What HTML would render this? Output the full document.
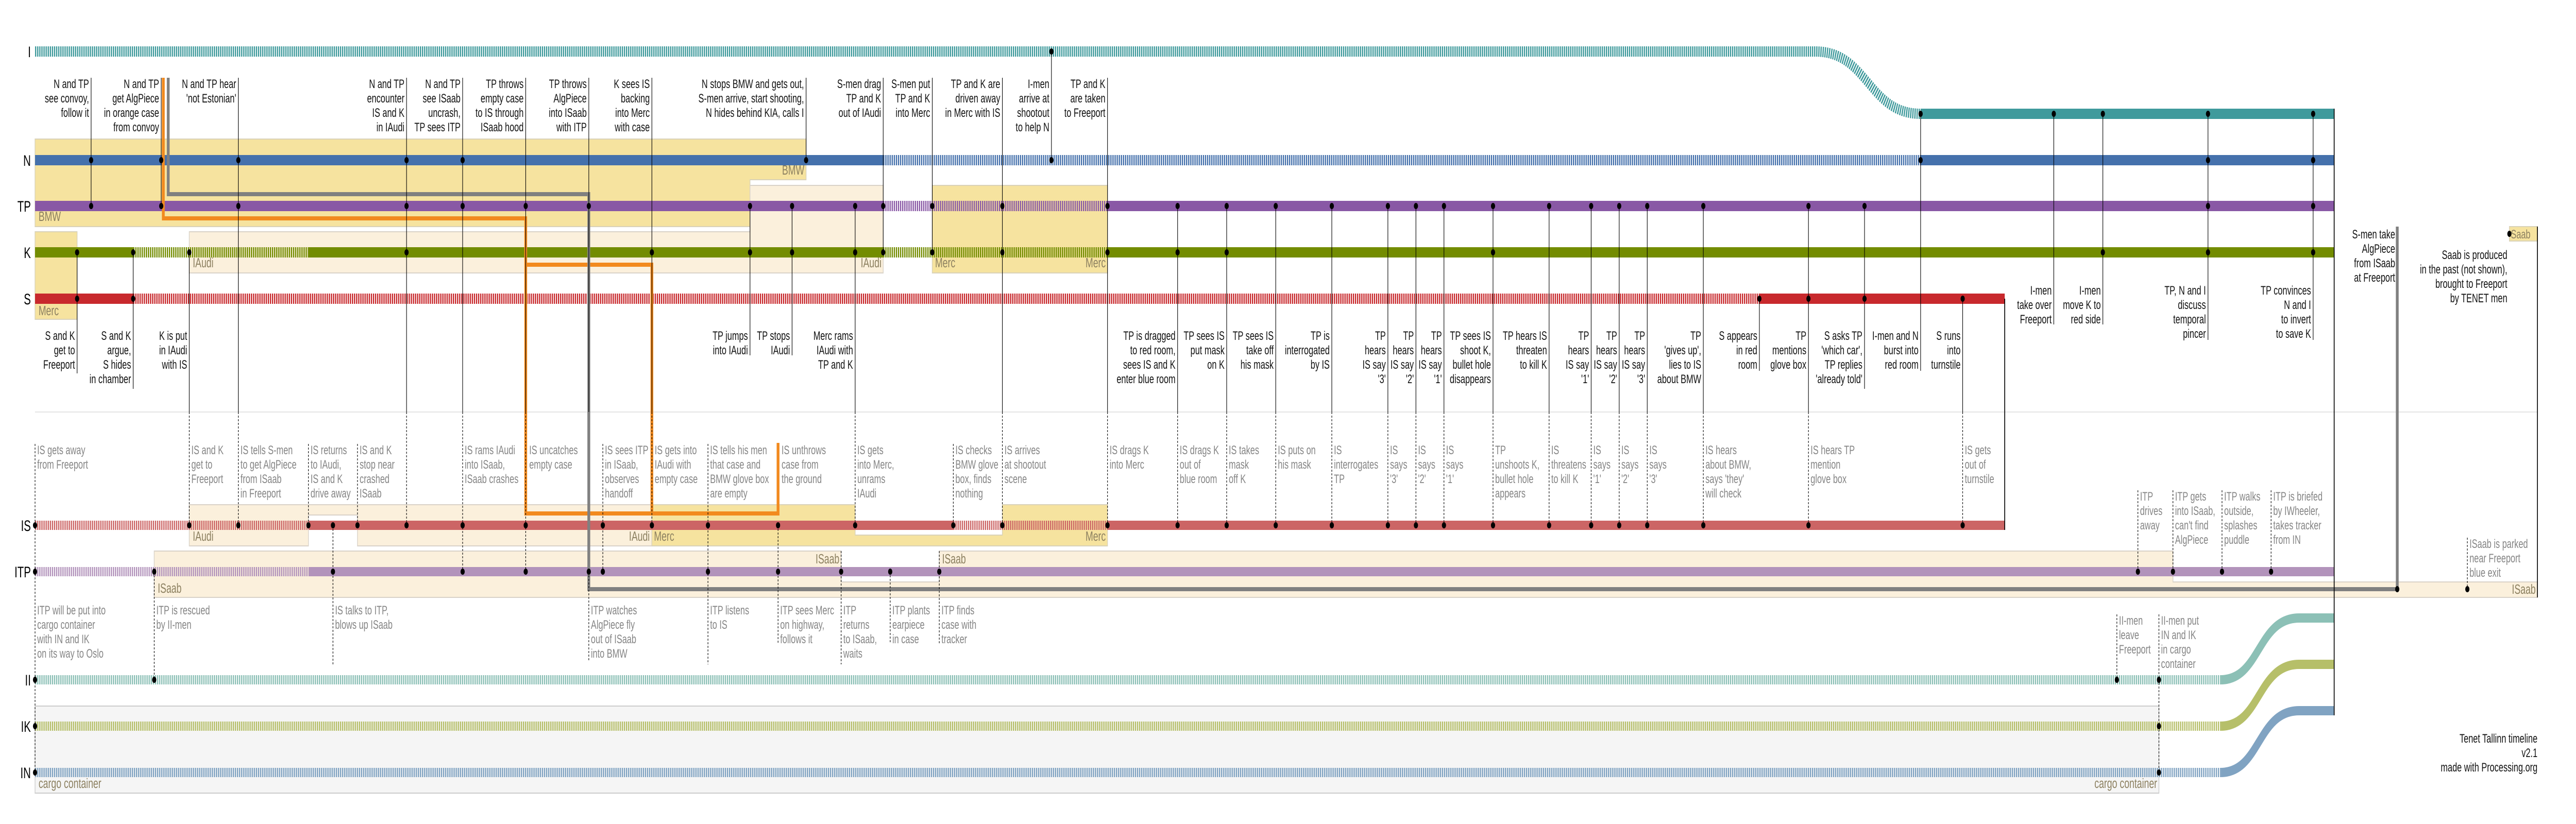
<!DOCTYPE html>
<html><head><meta charset="utf-8">
<meta name="viewport" content="width=7350, initial-scale=1">
<style>
html,body{margin:0;padding:0;background:#fff;overflow:hidden;width:100vw;height:100vh;}
svg{display:block;width:100vw;height:100vh;}
.t{font-family:"Liberation Sans",sans-serif;font-size:24px;fill:#111;}
.e{text-anchor:end;}
.g{fill:#858585;}
.bl{font-family:"Liberation Sans",sans-serif;font-size:26px;fill:#8c8060;}
.rl{font-family:"Liberation Sans",sans-serif;font-size:30px;fill:#000;text-anchor:end;}
.v{stroke:#000;stroke-width:1.6;fill:none;}
.d{stroke:#000;stroke-width:1.6;fill:none;stroke-dasharray:4 3;}
.h{fill:none;stroke-width:20;}
.hs{fill:none;stroke-width:18;}
.da{stroke-dasharray:3.5 2.5;}
</style></head><body>
<svg viewBox="0 0 7350 1600" preserveAspectRatio="none" xmlns="http://www.w3.org/2000/svg">
<rect width="7350" height="1600" fill="#fff"/>

<!-- boxes -->
<path d="M100 270 H2300 V349 H2140 V440 H100 Z" fill="#f6e39f" stroke="#d9d2b8" stroke-width="2"/>
<rect x="100" y="450" width="120" height="170" fill="#f6e39f" stroke="#d9d2b8" stroke-width="2"/>
<path d="M540 450 H2140 V360 H2520 V530 H540 Z" fill="#fbf0dc" stroke="#d9d2c8" stroke-width="2"/>
<rect x="2660" y="360" width="500" height="170" fill="#f6e39f" stroke="#d9d2b8" stroke-width="2"/>
<path d="M540 980 H1860 V1060 H1020 V1000 H880 V1060 H540 Z" fill="#fbf0dc" stroke="#d9d2c8" stroke-width="2"/>
<path d="M1860 980 H2440 V1039 H2860 V980 H3160 V1060 H1860 Z" fill="#f6e39f" stroke="#d9d2b8" stroke-width="2"/>
<path d="M440 1070 H2400 V1130 H2680 V1070 H6200 V1130 H7240 V1160 H440 Z" fill="#fbf0dc" stroke="#d9d2c8" stroke-width="2"/>
<rect x="100" y="1371" width="6060" height="169" fill="#f5f5f5" stroke="#cccccc" stroke-width="2"/>
<rect x="7160" y="440" width="80" height="28" fill="#f6e39f" stroke="#d9d2b8" stroke-width="2"/>

<text class="bl" x="110" y="429">BMW</text>
<text class="bl e" x="2295" y="339">BMW</text>
<text class="bl" x="110" y="612">Merc</text>
<text class="bl" x="550" y="519">IAudi</text>
<text class="bl e" x="2515" y="519">IAudi</text>
<text class="bl" x="2668" y="519">Merc</text>
<text class="bl e" x="3155" y="519">Merc</text>
<text class="bl" x="550" y="1050">IAudi</text>
<text class="bl e" x="1854" y="1050">IAudi</text>
<text class="bl" x="1866" y="1050">Merc</text>
<text class="bl e" x="3155" y="1050">Merc</text>
<text class="bl" x="450" y="1151">ISaab</text>
<text class="bl e" x="2395" y="1094">ISaab</text>
<text class="bl" x="2688" y="1094">ISaab</text>
<text class="bl e" x="7235" y="1153">ISaab</text>
<text class="bl" x="110" y="1530">cargo container</text>
<text class="bl e" x="6155" y="1530">cargo container</text>
<text class="bl" x="7164" y="463" style="font-size:24px">Saab</text>

<line x1="100" y1="800" x2="7240" y2="800" stroke="#e4e4e4" stroke-width="2"/>

<text class="rl" x="88" y="111">I</text>
<text class="rl" x="88" y="322">N</text>
<text class="rl" x="88" y="411">TP</text>
<text class="rl" x="88" y="501">K</text>
<text class="rl" x="88" y="591">S</text>
<text class="rl" x="88" y="1031">IS</text>
<text class="rl" x="88" y="1121">ITP</text>
<text class="rl" x="88" y="1331">II</text>
<text class="rl" x="88" y="1421">IK</text>
<text class="rl" x="88" y="1511">IN</text>

<g stroke="#3f9a9c">
<path class="h da" d="M100 100 H5180 C5330 100 5330 221 5480 221"/>
<path class="h" d="M5480 221 H6660"/>
</g>
<g stroke="#4571ac">
<path class="h" d="M100 311 H2520"/>
<path class="h da" d="M2520 311 H5480"/>
<path class="h" d="M5480 311 H6660"/>
</g>
<g stroke="#8958a5">
<path class="h" d="M100 400 H2520"/>
<path class="h da" d="M2520 400 H3160"/>
<path class="h" d="M3160 400 H6660"/>
</g>
<g stroke="#738c00">
<path class="h" d="M100 490 H380"/>
<path class="h da" d="M380 490 H880"/>
<path class="h" d="M880 490 H2520"/>
<path class="h da" d="M2520 490 H3160"/>
<path class="h" d="M3160 490 H6660"/>
</g>
<g stroke="#c8292d">
<path class="h" d="M100 580 H380"/>
<path class="h da" d="M380 580 H5020"/>
<path class="h" d="M5020 580 H5720"/>
</g>
<g stroke="#cc6565">
<path class="hs da" d="M100 1020 H880"/>
<path class="hs" d="M880 1020 H2720"/>
<path class="hs da" d="M2720 1020 H3160"/>
<path class="hs" d="M3160 1020 H5720"/>
</g>
<g stroke="#b293bb">
<path class="hs da" d="M100 1110 H880"/>
<path class="hs" d="M880 1110 H6660"/>
</g>
<g stroke="#8cc0b6">
<path class="hs da" d="M100 1320 H6336"/>
<path class="hs" d="M6336 1320 C6450 1320 6440 1200 6560 1200 H6660"/>
</g>
<g stroke="#b6bf69">
<path class="hs da" d="M100 1410 H6336"/>
<path class="hs" d="M6336 1410 C6450 1410 6440 1290 6560 1290 H6660"/>
</g>
<g stroke="#80a3c2">
<path class="hs da" d="M100 1500 H6336"/>
<path class="hs" d="M6336 1500 C6450 1500 6440 1380 6560 1380 H6660"/>
</g>

<g fill="none" stroke="#f28a1e" stroke-width="8">
<path d="M466 151 V424 H1500 V997 H2220 V860"/>
<path d="M1500 514 H1860 V997"/>
</g>
<g fill="none" stroke="#808080" stroke-width="8">
<path d="M480 151 V377 H1680 V1144 H6840 V440"/>
</g>

<g class="v">
<path d="M220 490V725M380 490V755M540 490V800M260 151V400M460 151V400M680 151V800M1160 151V800M1320 151V800M1500 151V800M1680 151V800M1860 151V800M2140 400V690M2260 400V690M2300 151V311M2440 400V800M2520 151V490M2660 151V490M2860 151V800M3000 100V311M3160 151V800"/>
<path d="M3360 400V800M3500 400V800M3640 400V800M3800 400V800M3960 400V800M4040 400V800M4120 400V800M4260 400V800M4420 400V800M4540 400V800M4620 400V800M4700 400V800M4860 400V800"/>
<path d="M5020 580V720M5160 400V800M5320 400V755M5480 221V720M5600 580V800M5860 221V630M6000 221V630M6300 221V660M6600 221V660"/>
</g>
<g stroke="#000" stroke-width="2.4" fill="none">
<path d="M5720 580V1029M6660 211V1389M7240 440V1160"/>
</g>

<g class="d">
<path d="M100 862V1500M440 1110V1320M540 800V1020M680 800V1020M880 862V1020M950 1020V1290M1020 862V1020M1160 800V1020M1320 800V1110M1500 800V1110M1680 1110V1285M1720 862V1110M1860 800V1020M2020 862V1290M2220 1020V1250M2400 1070V1290M2440 800V1020M2540 1110V1250M2680 1070V1250M2720 862V1020M2860 800V1020M3160 800V1020"/>
<path d="M3360 800V1020M3500 800V1020M3640 800V1020M3800 800V1020M3960 800V1020M4040 800V1020M4120 800V1020M4260 800V1020M4420 800V1020M4540 800V1020M4620 800V1020M4700 800V1020M4860 800V1020M5160 800V1020M5600 800V1020"/>
<path d="M6040 1193V1320M6160 1193V1500M6100 952V1110M6200 952V1110M6340 952V1110M6480 952V1110M7040 1044V1144"/>
</g>

<g fill="#000">
<circle cx="100" cy="1020" r="6"/><circle cx="100" cy="1110" r="6"/><circle cx="100" cy="1320" r="6"/><circle cx="100" cy="1410" r="6"/><circle cx="100" cy="1500" r="6"/>
<circle cx="220" cy="490" r="6"/><circle cx="220" cy="580" r="6"/>
<circle cx="260" cy="311" r="6"/><circle cx="260" cy="400" r="6"/>
<circle cx="380" cy="490" r="6"/><circle cx="380" cy="580" r="6"/>
<circle cx="440" cy="1110" r="6"/><circle cx="440" cy="1320" r="6"/>
<circle cx="460" cy="311" r="6"/><circle cx="460" cy="400" r="6"/>
<circle cx="540" cy="490" r="6"/><circle cx="540" cy="1020" r="6"/>
<circle cx="680" cy="311" r="6"/><circle cx="680" cy="400" r="6"/><circle cx="680" cy="1020" r="6"/>
<circle cx="880" cy="1020" r="6"/>
<circle cx="950" cy="1020" r="6"/><circle cx="950" cy="1110" r="6"/>
<circle cx="1020" cy="1020" r="6"/>
<circle cx="1160" cy="311" r="6"/><circle cx="1160" cy="400" r="6"/><circle cx="1160" cy="490" r="6"/><circle cx="1160" cy="1020" r="6"/>
<circle cx="1320" cy="311" r="6"/><circle cx="1320" cy="400" r="6"/><circle cx="1320" cy="1020" r="6"/><circle cx="1320" cy="1110" r="6"/>
<circle cx="1500" cy="400" r="6"/><circle cx="1500" cy="1020" r="6"/><circle cx="1500" cy="1110" r="6"/>
<circle cx="1680" cy="400" r="6"/><circle cx="1680" cy="1110" r="6"/>
<circle cx="1720" cy="1020" r="6"/><circle cx="1720" cy="1110" r="6"/>
<circle cx="1860" cy="490" r="6"/><circle cx="1860" cy="1020" r="6"/>
<circle cx="2020" cy="1020" r="6"/><circle cx="2020" cy="1110" r="6"/>
<circle cx="2140" cy="400" r="6"/><circle cx="2140" cy="490" r="6"/>
<circle cx="2220" cy="1020" r="6"/><circle cx="2220" cy="1110" r="6"/>
<circle cx="2260" cy="400" r="6"/><circle cx="2260" cy="490" r="6"/>
<circle cx="2300" cy="311" r="6"/>
<circle cx="2400" cy="1110" r="6"/>
<circle cx="2440" cy="400" r="6"/><circle cx="2440" cy="490" r="6"/><circle cx="2440" cy="1020" r="6"/>
<circle cx="2520" cy="400" r="6"/><circle cx="2520" cy="490" r="6"/>
<circle cx="2540" cy="1110" r="6"/>
<circle cx="2660" cy="400" r="6"/><circle cx="2660" cy="490" r="6"/>
<circle cx="2680" cy="1110" r="6"/>
<circle cx="2720" cy="1020" r="6"/>
<circle cx="2860" cy="400" r="6"/><circle cx="2860" cy="490" r="6"/><circle cx="2860" cy="1020" r="6"/>
<circle cx="3000" cy="100" r="6"/><circle cx="3000" cy="311" r="6"/>
<circle cx="3160" cy="400" r="6"/><circle cx="3160" cy="490" r="6"/><circle cx="3160" cy="1020" r="6"/>
<circle cx="3360" cy="400" r="6"/><circle cx="3360" cy="490" r="6"/><circle cx="3360" cy="1020" r="6"/>
<circle cx="3500" cy="400" r="6"/><circle cx="3500" cy="490" r="6"/><circle cx="3500" cy="1020" r="6"/>
<circle cx="3640" cy="400" r="6"/><circle cx="3640" cy="1020" r="6"/>
<circle cx="3800" cy="400" r="6"/><circle cx="3800" cy="1020" r="6"/>
<circle cx="3960" cy="400" r="6"/><circle cx="3960" cy="1020" r="6"/>
<circle cx="4040" cy="400" r="6"/><circle cx="4040" cy="1020" r="6"/>
<circle cx="4120" cy="400" r="6"/><circle cx="4120" cy="1020" r="6"/>
<circle cx="4260" cy="400" r="6"/><circle cx="4260" cy="490" r="6"/><circle cx="4260" cy="1020" r="6"/>
<circle cx="4420" cy="400" r="6"/><circle cx="4420" cy="1020" r="6"/>
<circle cx="4540" cy="400" r="6"/><circle cx="4540" cy="1020" r="6"/>
<circle cx="4620" cy="400" r="6"/><circle cx="4620" cy="1020" r="6"/>
<circle cx="4700" cy="400" r="6"/><circle cx="4700" cy="1020" r="6"/>
<circle cx="4860" cy="400" r="6"/><circle cx="4860" cy="1020" r="6"/>
<circle cx="5020" cy="580" r="6"/>
<circle cx="5160" cy="400" r="6"/><circle cx="5160" cy="580" r="6"/><circle cx="5160" cy="1020" r="6"/>
<circle cx="5320" cy="400" r="6"/><circle cx="5320" cy="580" r="6"/>
<circle cx="5480" cy="221" r="6"/><circle cx="5480" cy="311" r="6"/>
<circle cx="5600" cy="580" r="6"/><circle cx="5600" cy="1020" r="6"/>
<circle cx="5860" cy="221" r="6"/>
<circle cx="6000" cy="221" r="6"/><circle cx="6000" cy="490" r="6"/>
<circle cx="6040" cy="1320" r="6"/>
<circle cx="6100" cy="1110" r="6"/><circle cx="6200" cy="1110" r="6"/><circle cx="6340" cy="1110" r="6"/><circle cx="6480" cy="1110" r="6"/>
<circle cx="6160" cy="1320" r="6"/><circle cx="6160" cy="1410" r="6"/><circle cx="6160" cy="1500" r="6"/>
<circle cx="6300" cy="221" r="6"/><circle cx="6300" cy="311" r="6"/><circle cx="6300" cy="400" r="6"/><circle cx="6300" cy="490" r="6"/>
<circle cx="6600" cy="221" r="6"/><circle cx="6600" cy="311" r="6"/><circle cx="6600" cy="400" r="6"/><circle cx="6600" cy="490" r="6"/>
<circle cx="6840" cy="1144" r="6"/><circle cx="7040" cy="1144" r="6"/><circle cx="7160" cy="454" r="6"/>
</g>

<g class="t e">
<text y="171"><tspan x="254">N and TP</tspan><tspan x="254" dy="28">see convoy,</tspan><tspan x="254" dy="28">follow it</tspan></text>
<text y="171"><tspan x="454">N and TP</tspan><tspan x="454" dy="28">get AlgPiece</tspan><tspan x="454" dy="28">in orange case</tspan><tspan x="454" dy="28">from convoy</tspan></text>
<text y="171"><tspan x="674">N and TP hear</tspan><tspan x="674" dy="28">'not Estonian'</tspan></text>
<text y="171"><tspan x="1154">N and TP</tspan><tspan x="1154" dy="28">encounter</tspan><tspan x="1154" dy="28">IS and K</tspan><tspan x="1154" dy="28">in IAudi</tspan></text>
<text y="171"><tspan x="1314">N and TP</tspan><tspan x="1314" dy="28">see ISaab</tspan><tspan x="1314" dy="28">uncrash,</tspan><tspan x="1314" dy="28">TP sees ITP</tspan></text>
<text y="171"><tspan x="1494">TP throws</tspan><tspan x="1494" dy="28">empty case</tspan><tspan x="1494" dy="28">to IS through</tspan><tspan x="1494" dy="28">ISaab hood</tspan></text>
<text y="171"><tspan x="1674">TP throws</tspan><tspan x="1674" dy="28">AlgPiece</tspan><tspan x="1674" dy="28">into ISaab</tspan><tspan x="1674" dy="28">with ITP</tspan></text>
<text y="171"><tspan x="1854">K sees IS</tspan><tspan x="1854" dy="28">backing</tspan><tspan x="1854" dy="28">into Merc</tspan><tspan x="1854" dy="28">with case</tspan></text>
<text y="171"><tspan x="2294">N stops BMW and gets out,</tspan><tspan x="2294" dy="28">S-men arrive, start shooting,</tspan><tspan x="2294" dy="28">N hides behind KIA, calls I</tspan></text>
<text y="171"><tspan x="2514">S-men drag</tspan><tspan x="2514" dy="28">TP and K</tspan><tspan x="2514" dy="28">out of IAudi</tspan></text>
<text y="171"><tspan x="2654">S-men put</tspan><tspan x="2654" dy="28">TP and K</tspan><tspan x="2654" dy="28">into Merc</tspan></text>
<text y="171"><tspan x="2854">TP and K are</tspan><tspan x="2854" dy="28">driven away</tspan><tspan x="2854" dy="28">in Merc with IS</tspan></text>
<text y="171"><tspan x="2994">I-men</tspan><tspan x="2994" dy="28">arrive at</tspan><tspan x="2994" dy="28">shootout</tspan><tspan x="2994" dy="28">to help N</tspan></text>
<text y="171"><tspan x="3154">TP and K</tspan><tspan x="3154" dy="28">are taken</tspan><tspan x="3154" dy="28">to Freeport</tspan></text>
</g>

<g class="t e">
<text y="660"><tspan x="214">S and K</tspan><tspan x="214" dy="28">get to</tspan><tspan x="214" dy="28">Freeport</tspan></text>
<text y="660"><tspan x="374">S and K</tspan><tspan x="374" dy="28">argue,</tspan><tspan x="374" dy="28">S hides</tspan><tspan x="374" dy="28">in chamber</tspan></text>
<text y="660"><tspan x="534">K is put</tspan><tspan x="534" dy="28">in IAudi</tspan><tspan x="534" dy="28">with IS</tspan></text>
<text y="660"><tspan x="2134">TP jumps</tspan><tspan x="2134" dy="28">into IAudi</tspan></text>
<text y="660"><tspan x="2254">TP stops</tspan><tspan x="2254" dy="28">IAudi</tspan></text>
<text y="660"><tspan x="2434">Merc rams</tspan><tspan x="2434" dy="28">IAudi with</tspan><tspan x="2434" dy="28">TP and K</tspan></text>
<text y="660"><tspan x="3354">TP is dragged</tspan><tspan x="3354" dy="28">to red room,</tspan><tspan x="3354" dy="28">sees IS and K</tspan><tspan x="3354" dy="28">enter blue room</tspan></text>
<text y="660"><tspan x="3494">TP sees IS</tspan><tspan x="3494" dy="28">put mask</tspan><tspan x="3494" dy="28">on K</tspan></text>
<text y="660"><tspan x="3634">TP sees IS</tspan><tspan x="3634" dy="28">take off</tspan><tspan x="3634" dy="28">his mask</tspan></text>
<text y="660"><tspan x="3794">TP is</tspan><tspan x="3794" dy="28">interrogated</tspan><tspan x="3794" dy="28">by IS</tspan></text>
<text y="660"><tspan x="3954">TP</tspan><tspan x="3954" dy="28">hears</tspan><tspan x="3954" dy="28">IS say</tspan><tspan x="3954" dy="28">'3'</tspan></text>
<text y="660"><tspan x="4034">TP</tspan><tspan x="4034" dy="28">hears</tspan><tspan x="4034" dy="28">IS say</tspan><tspan x="4034" dy="28">'2'</tspan></text>
<text y="660"><tspan x="4114">TP</tspan><tspan x="4114" dy="28">hears</tspan><tspan x="4114" dy="28">IS say</tspan><tspan x="4114" dy="28">'1'</tspan></text>
<text y="660"><tspan x="4254">TP sees IS</tspan><tspan x="4254" dy="28">shoot K,</tspan><tspan x="4254" dy="28">bullet hole</tspan><tspan x="4254" dy="28">disappears</tspan></text>
<text y="660"><tspan x="4414">TP hears IS</tspan><tspan x="4414" dy="28">threaten</tspan><tspan x="4414" dy="28">to kill K</tspan></text>
<text y="660"><tspan x="4534">TP</tspan><tspan x="4534" dy="28">hears</tspan><tspan x="4534" dy="28">IS say</tspan><tspan x="4534" dy="28">'1'</tspan></text>
<text y="660"><tspan x="4614">TP</tspan><tspan x="4614" dy="28">hears</tspan><tspan x="4614" dy="28">IS say</tspan><tspan x="4614" dy="28">'2'</tspan></text>
<text y="660"><tspan x="4694">TP</tspan><tspan x="4694" dy="28">hears</tspan><tspan x="4694" dy="28">IS say</tspan><tspan x="4694" dy="28">'3'</tspan></text>
<text y="660"><tspan x="4854">TP</tspan><tspan x="4854" dy="28">'gives up',</tspan><tspan x="4854" dy="28">lies to IS</tspan><tspan x="4854" dy="28">about BMW</tspan></text>
<text y="660"><tspan x="5014">S appears</tspan><tspan x="5014" dy="28">in red</tspan><tspan x="5014" dy="28">room</tspan></text>
<text y="660"><tspan x="5154">TP</tspan><tspan x="5154" dy="28">mentions</tspan><tspan x="5154" dy="28">glove box</tspan></text>
<text y="660"><tspan x="5314">S asks TP</tspan><tspan x="5314" dy="28">'which car',</tspan><tspan x="5314" dy="28">TP replies</tspan><tspan x="5314" dy="28">'already told'</tspan></text>
<text y="660"><tspan x="5474">I-men and N</tspan><tspan x="5474" dy="28">burst into</tspan><tspan x="5474" dy="28">red room</tspan></text>
<text y="660"><tspan x="5594">S runs</tspan><tspan x="5594" dy="28">into</tspan><tspan x="5594" dy="28">turnstile</tspan></text>
<text y="572"><tspan x="5854">I-men</tspan><tspan x="5854" dy="28">take over</tspan><tspan x="5854" dy="28">Freeport</tspan></text>
<text y="572"><tspan x="5994">I-men</tspan><tspan x="5994" dy="28">move K to</tspan><tspan x="5994" dy="28">red side</tspan></text>
<text y="572"><tspan x="6294">TP, N and I</tspan><tspan x="6294" dy="28">discuss</tspan><tspan x="6294" dy="28">temporal</tspan><tspan x="6294" dy="28">pincer</tspan></text>
<text y="572"><tspan x="6594">TP convinces</tspan><tspan x="6594" dy="28">N and I</tspan><tspan x="6594" dy="28">to invert</tspan><tspan x="6594" dy="28">to save K</tspan></text>
<text y="463"><tspan x="6834">S-men take</tspan><tspan x="6834" dy="28">AlgPiece</tspan><tspan x="6834" dy="28">from ISaab</tspan><tspan x="6834" dy="28">at Freeport</tspan></text>
<text y="503"><tspan x="7154">Saab is produced</tspan><tspan x="7154" dy="28">in the past (not shown),</tspan><tspan x="7154" dy="28">brought to Freeport</tspan><tspan x="7154" dy="28">by TENET men</tspan></text>
<text y="1442"><tspan x="7240">Tenet Tallinn timeline</tspan><tspan x="7240" dy="28">v2.1</tspan><tspan x="7240" dy="28">made with Processing.org</tspan></text>
</g>

<g class="t g">
<text y="882"><tspan x="106">IS gets away</tspan><tspan x="106" dy="28">from Freeport</tspan></text>
<text y="882"><tspan x="546">IS and K</tspan><tspan x="546" dy="28">get to</tspan><tspan x="546" dy="28">Freeport</tspan></text>
<text y="882"><tspan x="686">IS tells S-men</tspan><tspan x="686" dy="28">to get AlgPiece</tspan><tspan x="686" dy="28">from ISaab</tspan><tspan x="686" dy="28">in Freeport</tspan></text>
<text y="882"><tspan x="886">IS returns</tspan><tspan x="886" dy="28">to IAudi,</tspan><tspan x="886" dy="28">IS and K</tspan><tspan x="886" dy="28">drive away</tspan></text>
<text y="882"><tspan x="1026">IS and K</tspan><tspan x="1026" dy="28">stop near</tspan><tspan x="1026" dy="28">crashed</tspan><tspan x="1026" dy="28">ISaab</tspan></text>
<text y="882"><tspan x="1326">IS rams IAudi</tspan><tspan x="1326" dy="28">into ISaab,</tspan><tspan x="1326" dy="28">ISaab crashes</tspan></text>
<text y="882"><tspan x="1510">IS uncatches</tspan><tspan x="1510" dy="28">empty case</tspan></text>
<text y="882"><tspan x="1726">IS sees ITP</tspan><tspan x="1726" dy="28">in ISaab,</tspan><tspan x="1726" dy="28">observes</tspan><tspan x="1726" dy="28">handoff</tspan></text>
<text y="882"><tspan x="1868">IS gets into</tspan><tspan x="1868" dy="28">IAudi with</tspan><tspan x="1868" dy="28">empty case</tspan></text>
<text y="882"><tspan x="2026">IS tells his men</tspan><tspan x="2026" dy="28">that case and</tspan><tspan x="2026" dy="28">BMW glove box</tspan><tspan x="2026" dy="28">are empty</tspan></text>
<text y="882"><tspan x="2230">IS unthrows</tspan><tspan x="2230" dy="28">case from</tspan><tspan x="2230" dy="28">the ground</tspan></text>
<text y="882"><tspan x="2446">IS gets</tspan><tspan x="2446" dy="28">into Merc,</tspan><tspan x="2446" dy="28">unrams</tspan><tspan x="2446" dy="28">IAudi</tspan></text>
<text y="882"><tspan x="2726">IS checks</tspan><tspan x="2726" dy="28">BMW glove</tspan><tspan x="2726" dy="28">box, finds</tspan><tspan x="2726" dy="28">nothing</tspan></text>
<text y="882"><tspan x="2866">IS arrives</tspan><tspan x="2866" dy="28">at shootout</tspan><tspan x="2866" dy="28">scene</tspan></text>
<text y="882"><tspan x="3166">IS drags K</tspan><tspan x="3166" dy="28">into Merc</tspan></text>
<text y="882"><tspan x="3366">IS drags K</tspan><tspan x="3366" dy="28">out of</tspan><tspan x="3366" dy="28">blue room</tspan></text>
<text y="882"><tspan x="3506">IS takes</tspan><tspan x="3506" dy="28">mask</tspan><tspan x="3506" dy="28">off K</tspan></text>
<text y="882"><tspan x="3646">IS puts on</tspan><tspan x="3646" dy="28">his mask</tspan></text>
<text y="882"><tspan x="3806">IS</tspan><tspan x="3806" dy="28">interrogates</tspan><tspan x="3806" dy="28">TP</tspan></text>
<text y="882"><tspan x="3966">IS</tspan><tspan x="3966" dy="28">says</tspan><tspan x="3966" dy="28">'3'</tspan></text>
<text y="882"><tspan x="4046">IS</tspan><tspan x="4046" dy="28">says</tspan><tspan x="4046" dy="28">'2'</tspan></text>
<text y="882"><tspan x="4126">IS</tspan><tspan x="4126" dy="28">says</tspan><tspan x="4126" dy="28">'1'</tspan></text>
<text y="882"><tspan x="4266">TP</tspan><tspan x="4266" dy="28">unshoots K,</tspan><tspan x="4266" dy="28">bullet hole</tspan><tspan x="4266" dy="28">appears</tspan></text>
<text y="882"><tspan x="4426">IS</tspan><tspan x="4426" dy="28">threatens</tspan><tspan x="4426" dy="28">to kill K</tspan></text>
<text y="882"><tspan x="4546">IS</tspan><tspan x="4546" dy="28">says</tspan><tspan x="4546" dy="28">'1'</tspan></text>
<text y="882"><tspan x="4626">IS</tspan><tspan x="4626" dy="28">says</tspan><tspan x="4626" dy="28">'2'</tspan></text>
<text y="882"><tspan x="4706">IS</tspan><tspan x="4706" dy="28">says</tspan><tspan x="4706" dy="28">'3'</tspan></text>
<text y="882"><tspan x="4866">IS hears</tspan><tspan x="4866" dy="28">about BMW,</tspan><tspan x="4866" dy="28">says 'they'</tspan><tspan x="4866" dy="28">will check</tspan></text>
<text y="882"><tspan x="5166">IS hears TP</tspan><tspan x="5166" dy="28">mention</tspan><tspan x="5166" dy="28">glove box</tspan></text>
<text y="882"><tspan x="5606">IS gets</tspan><tspan x="5606" dy="28">out of</tspan><tspan x="5606" dy="28">turnstile</tspan></text>

<text y="1193"><tspan x="106">ITP will be put into</tspan><tspan x="106" dy="28">cargo container</tspan><tspan x="106" dy="28">with IN and IK</tspan><tspan x="106" dy="28">on its way to Oslo</tspan></text>
<text y="1193"><tspan x="446">ITP is rescued</tspan><tspan x="446" dy="28">by II-men</tspan></text>
<text y="1193"><tspan x="956">IS talks to ITP,</tspan><tspan x="956" dy="28">blows up ISaab</tspan></text>
<text y="1193"><tspan x="1686">ITP watches</tspan><tspan x="1686" dy="28">AlgPiece fly</tspan><tspan x="1686" dy="28">out of ISaab</tspan><tspan x="1686" dy="28">into BMW</tspan></text>
<text y="1193"><tspan x="2026">ITP listens</tspan><tspan x="2026" dy="28">to IS</tspan></text>
<text y="1193"><tspan x="2226">ITP sees Merc</tspan><tspan x="2226" dy="28">on highway,</tspan><tspan x="2226" dy="28">follows it</tspan></text>
<text y="1193"><tspan x="2406">ITP</tspan><tspan x="2406" dy="28">returns</tspan><tspan x="2406" dy="28">to ISaab,</tspan><tspan x="2406" dy="28">waits</tspan></text>
<text y="1193"><tspan x="2546">ITP plants</tspan><tspan x="2546" dy="28">earpiece</tspan><tspan x="2546" dy="28">in case</tspan></text>
<text y="1193"><tspan x="2686">ITP finds</tspan><tspan x="2686" dy="28">case with</tspan><tspan x="2686" dy="28">tracker</tspan></text>
<text y="972"><tspan x="6106">ITP</tspan><tspan x="6106" dy="28">drives</tspan><tspan x="6106" dy="28">away</tspan></text>
<text y="972"><tspan x="6206">ITP gets</tspan><tspan x="6206" dy="28">into ISaab,</tspan><tspan x="6206" dy="28">can't find</tspan><tspan x="6206" dy="28">AlgPiece</tspan></text>
<text y="972"><tspan x="6346">ITP walks</tspan><tspan x="6346" dy="28">outside,</tspan><tspan x="6346" dy="28">splashes</tspan><tspan x="6346" dy="28">puddle</tspan></text>
<text y="972"><tspan x="6486">ITP is briefed</tspan><tspan x="6486" dy="28">by IWheeler,</tspan><tspan x="6486" dy="28">takes tracker</tspan><tspan x="6486" dy="28">from IN</tspan></text>
<text y="1213"><tspan x="6046">II-men</tspan><tspan x="6046" dy="28">leave</tspan><tspan x="6046" dy="28">Freeport</tspan></text>
<text y="1213"><tspan x="6166">II-men put</tspan><tspan x="6166" dy="28">IN and IK</tspan><tspan x="6166" dy="28">in cargo</tspan><tspan x="6166" dy="28">container</tspan></text>
<text y="1064"><tspan x="7046">ISaab is parked</tspan><tspan x="7046" dy="28">near Freeport</tspan><tspan x="7046" dy="28">blue exit</tspan></text>
</g>
</svg>
</body></html>
